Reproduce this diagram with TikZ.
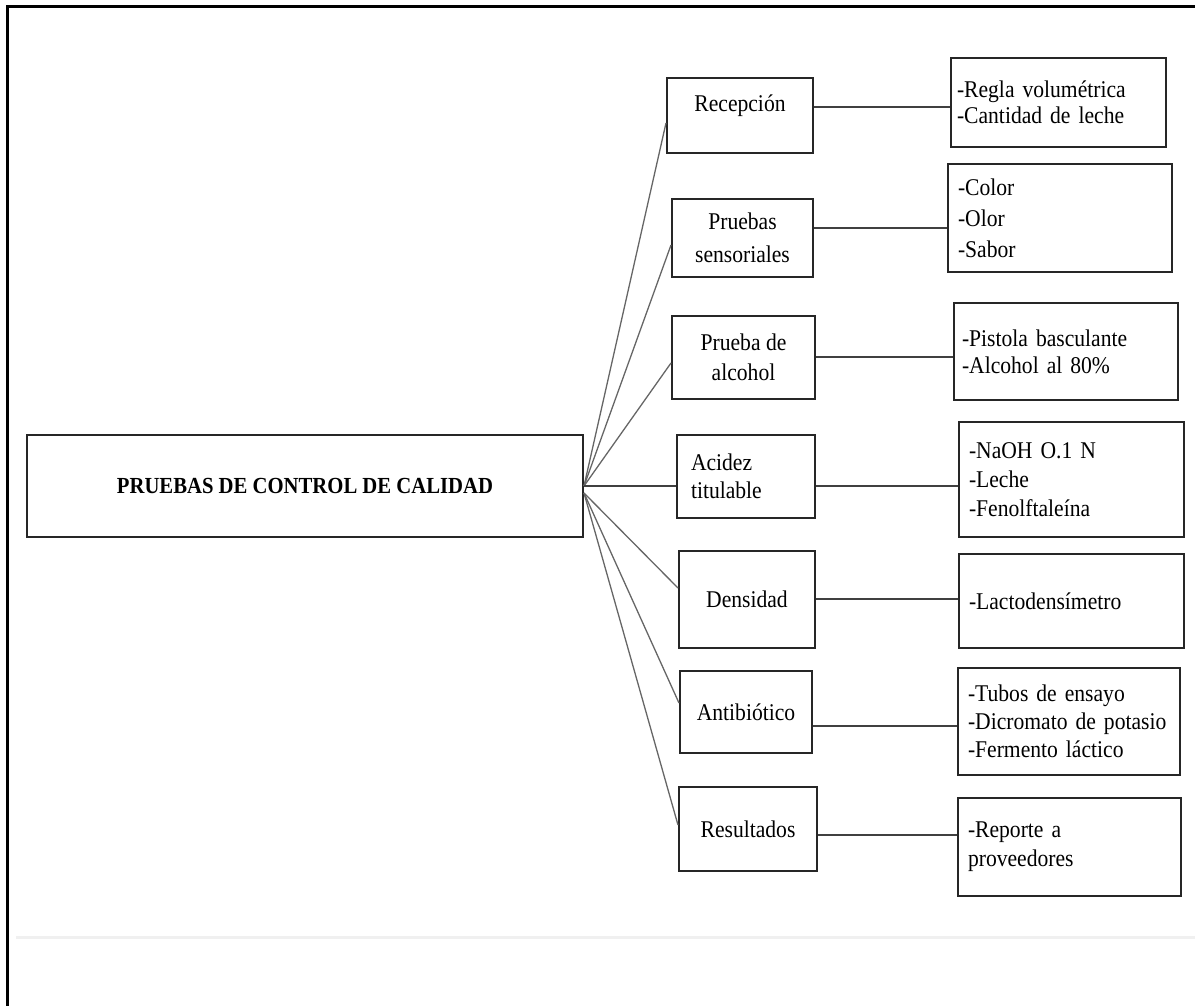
\documentclass[tikz,border=0pt]{standalone}
\usepackage{fontspec}
\setmainfont{Liberation Serif}[FakeStretch=0.9]
\usetikzlibrary{positioning}

\begin{document}
\begin{tikzpicture}[x=1pt, y=-1pt,
  caja/.style={draw=black!85, line width=2pt, font=\fontsize{24}{30}\selectfont, inner ysep=0pt, align=center},
  lista/.style={caja, align=left, inner xsep=10pt},
  rama/.style={black!60, line width=1.3pt},
  enlace/.style={black!75, line width=2pt}]
\useasboundingbox (0,0) rectangle (1195,1006);

% Frame
\draw[line width=3pt, black] (7,1006) -- (7,7) -- (1195,7);
\draw[line width=3pt, black!6] (16,937) -- (1195,937);

% Main box
\node[caja, minimum width=556pt, minimum height=102pt, font=\fontsize{23}{29}\selectfont\bfseries] (main) at (305,486) {PRUEBAS DE CONTROL DE CALIDAD};

% Tests
\node[caja, minimum width=146pt, minimum height=75pt, text depth=24pt] (recep) at (740,115.5) {Recepción};
\node[caja, minimum width=141pt, minimum height=78pt, font=\fontsize{24}{33}\selectfont] (sens) at (742.5,238) {Pruebas\\sensoriales};
\node[caja, minimum width=143pt, minimum height=83pt] (alc) at (743.5,357.5) {Prueba de\\alcohol};
\node[caja, align=left, text width=110pt, inner xsep=14pt, minimum height=83pt, font=\fontsize{24}{28}\selectfont] (acid) at (746,476.5) {Acidez\\titulable};
\node[caja, minimum width=136pt, minimum height=97pt] (dens) at (747,599.5) {Densidad};
\node[caja, minimum width=132pt, minimum height=82pt] (antib) at (746,712) {Antibiótico};
\node[caja, minimum width=138pt, minimum height=84pt] (res) at (748,829) {Resultados};

% Materials
\node[lista, text width=203pt, minimum height=89pt, inner xsep=6pt, font=\fontsize{24}{26}\selectfont] (der1) at (1058.5,102.5) {-Regla volumétrica\\-Cantidad de leche};
\node[lista, text width=204pt, minimum height=108pt, font=\fontsize{24}{31}\selectfont] (der2) at (1060,218) {-Color\\-Olor\\-Sabor};
\node[lista, text width=208pt, minimum height=97pt, inner xsep=8pt, font=\fontsize{24}{27}\selectfont] (der3) at (1066,351.5) {-Pistola basculante\\-Alcohol al 80\%};
\node[lista, text width=205pt, minimum height=115pt, font=\fontsize{24}{29}\selectfont] (der4) at (1071.5,479.5) {-NaOH O.1 N\\-Leche\\-Fenolftaleína};
\node[lista, text width=205pt, minimum height=94pt] (der5) at (1071.5,601) {-Lactodensímetro};
\node[lista, text width=202pt, minimum height=107pt, font=\fontsize{24}{28}\selectfont] (der6) at (1069,721.5) {-Tubos de ensayo\\-Dicromato de potasio\\-Fermento láctico};
\node[lista, text width=203pt, minimum height=98pt, font=\fontsize{24}{29}\selectfont] (der7) at (1069.5,847) {-Reporte a\\proveedores};

% Fan from main box
\draw[rama] (main.east) -- (recep.west |- 0,123);
\draw[rama] (main.east) -- (sens.west |- 0,245);
\draw[rama] (main.east) -- (alc.west |- 0,363);
\draw[enlace] (main.east) -- (acid.west |- main.east);
\draw[rama] ([yshift=-7pt]main.east) -- (dens.west |- 0,588);
\draw[rama] ([yshift=-7pt]main.east) -- (antib.west |- 0,703);
\draw[rama] ([yshift=-7pt]main.east) -- (res.west |- 0,825);

% Test to materials
\draw[enlace] (recep.east |- 0,107) -- (der1.west |- 0,107);
\draw[enlace] (sens.east |- 0,228) -- (der2.west |- 0,228);
\draw[enlace] (alc.east |- 0,357) -- (der3.west |- 0,357);
\draw[enlace] (acid.east |- 0,486) -- (der4.west |- 0,486);
\draw[enlace] (dens.east |- 0,599) -- (der5.west |- 0,599);
\draw[enlace] (antib.east |- 0,726) -- (der6.west |- 0,726);
\draw[enlace] (res.east |- 0,835) -- (der7.west |- 0,835);
\end{tikzpicture}
\end{document}
